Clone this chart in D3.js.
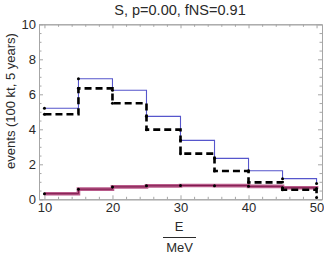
<!DOCTYPE html>
<html>
<head>
<meta charset="utf-8">
<script src="https://cdn.jsdelivr.net/npm/d3@7"></script>
<style>
  body { margin: 0; background: #fff; }
  text { font-family: "Liberation Sans", Arial, sans-serif; }
</style>
</head>
<body>
<script>
var w = 324;
var h = 255;

// bin edges (MeV) and step values, last value is the closing point at E=50
var edges = [10, 15, 20, 25, 30, 35, 40, 45, 50];
var blueVals = [5.2, 6.89, 6.23, 4.74, 3.37, 2.34, 1.63, 1.18, 0.9];
var dashVals = [4.86, 6.34, 5.49, 3.98, 2.61, 1.62, 0.97, 0.55, 0.1];
var purpleVals = [0.32, 0.58, 0.71, 0.77, 0.79, 0.78, 0.74, 0.66, 0.62];

var xMajor = [10, 20, 30, 40, 50];
var xMinor = [12, 14, 16, 18, 22, 24, 26, 28, 32, 34, 36, 38, 42, 44, 46, 48];
var yMajor = [0, 2, 4, 6, 8, 10];
var yMinor = [0.5, 1, 1.5, 2.5, 3, 3.5, 4.5, 5, 5.5, 6.5, 7, 7.5, 8.5, 9, 9.5];

var x = d3.scaleLinear().domain([9.2, 50.8]).range([39, 322]);
var y = d3.scaleLinear().domain([0, 10]).range([199.3, 24.3]);

var svg = d3.select("body").append("svg").attr("width", w).attr("height", h);

function pts(vals) {
    return vals.map(function (v, i) { return [edges[i], v]; });
}

var line = d3.line()
    .x(function (d) { return x(d[0]); })
    .y(function (d) { return y(d[1]); })
    .curve(d3.curveStepAfter);

// frame + ticks
function styleAxis(g, labels) {
    g.select(".domain").attr("stroke", "#a6a6a6");
    g.selectAll(".tick line").attr("stroke", "#a6a6a6");
    g.selectAll("text").attr("fill", "#2a2a2a").style("font-size", "13px");
    if (!labels) g.selectAll("text").remove();
}

svg.append("g").attr("transform", "translate(0," + y(0) + ")")
    .call(d3.axisBottom(x).tickValues(xMinor).tickSizeInner(-2.5).tickSizeOuter(0))
    .call(styleAxis, false);
svg.append("g").attr("transform", "translate(0," + y(0) + ")")
    .call(d3.axisBottom(x).tickValues(xMajor).tickSizeInner(-4).tickSizeOuter(0).tickPadding(3.5).tickFormat(d3.format("d")))
    .call(styleAxis, true);
svg.append("g").attr("transform", "translate(0," + y(10) + ")")
    .call(d3.axisTop(x).tickValues(xMinor).tickSizeInner(-2.5).tickSizeOuter(0))
    .call(styleAxis, false);
svg.append("g").attr("transform", "translate(0," + y(10) + ")")
    .call(d3.axisTop(x).tickValues(xMajor).tickSizeInner(-4).tickSizeOuter(0))
    .call(styleAxis, false);

svg.append("g").attr("transform", "translate(" + x.range()[0] + ",0)")
    .call(d3.axisLeft(y).tickValues(yMinor).tickSizeInner(-2.5).tickSizeOuter(0))
    .call(styleAxis, false);
svg.append("g").attr("transform", "translate(" + x.range()[0] + ",0)")
    .call(d3.axisLeft(y).tickValues(yMajor).tickSizeInner(-4).tickSizeOuter(0).tickPadding(3).tickFormat(d3.format("d")))
    .call(styleAxis, true);
svg.append("g").attr("transform", "translate(" + x.range()[1] + ",0)")
    .call(d3.axisRight(y).tickValues(yMinor).tickSizeInner(-2.5).tickSizeOuter(0))
    .call(styleAxis, false);
svg.append("g").attr("transform", "translate(" + x.range()[1] + ",0)")
    .call(d3.axisRight(y).tickValues(yMajor).tickSizeInner(-4).tickSizeOuter(0))
    .call(styleAxis, false);

// purple (thick, with darker core)
svg.append("path").datum(pts(purpleVals))
    .attr("d", line).attr("fill", "none")
    .attr("stroke", "#a8326e").attr("stroke-opacity", 0.8).attr("stroke-width", 3.6);
svg.append("path").datum(pts(purpleVals))
    .attr("d", line).attr("fill", "none")
    .attr("stroke", "#7e1a4c").attr("stroke-width", 1);

// blue
svg.append("path").datum(pts(blueVals))
    .attr("d", line).attr("fill", "none")
    .attr("stroke", "#5656cc").attr("stroke-width", 1.1);

// black dashed
svg.append("path").datum(pts(dashVals))
    .attr("d", line).attr("fill", "none")
    .attr("stroke", "#000").attr("stroke-width", 2.6)
    .attr("stroke-dasharray", "7,4");

// points
[blueVals, dashVals, purpleVals].forEach(function (vals) {
    svg.append("g").selectAll("circle")
        .data(pts(vals))
        .enter()
        .append("circle")
        .attr("cx", function (d) { return x(d[0]); })
        .attr("cy", function (d) { return y(d[1]); })
        .attr("r", 1.5)
        .attr("fill", "#000");
});

// title and labels
svg.append("text")
    .attr("x", 180).attr("y", 14.5)
    .attr("text-anchor", "middle")
    .style("font-size", "14.5px").attr("fill", "#2a2a2a")
    .text("S, p=0.00, fNS=0.91");

svg.append("text")
    .attr("transform", "translate(15,101) rotate(-90)")
    .attr("text-anchor", "middle")
    .style("font-size", "13px").attr("fill", "#2a2a2a")
    .text("events (100 kt, 5 years)");

svg.append("text")
    .attr("x", 179).attr("y", 231)
    .attr("text-anchor", "middle")
    .style("font-size", "13px").attr("fill", "#2a2a2a")
    .text("E");
svg.append("line")
    .attr("x1", 163).attr("x2", 196).attr("y1", 237.5).attr("y2", 237.5)
    .attr("stroke", "#2a2a2a").attr("stroke-width", 1);
svg.append("text")
    .attr("x", 179.5).attr("y", 251.5)
    .attr("text-anchor", "middle")
    .style("font-size", "13px").attr("fill", "#2a2a2a")
    .text("MeV");
</script>
</body>
</html>
